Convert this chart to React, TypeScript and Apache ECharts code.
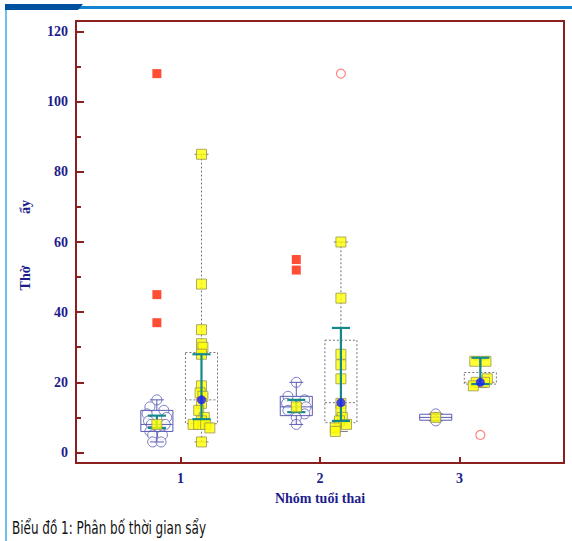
import React, { useEffect, useRef } from "react";
import * as echarts from "echarts";

// ---------- data ----------
const categories = [1, 2, 3];
const xTickValues = [1, 2, 3];
const yTickValues = [0, 20, 40, 60, 80, 100, 120];
const yMinorTickValues = [10, 30, 50, 70, 90, 110];
const captionText = "Biểu đồ 1: Phân bố thời gian sẩy";

// group A (open circles, blue box)
const groupAValues = [
  [15, 13, 12, 11, 10, 9, 8, 8, 6, 5, 5, 3, 3],
  [20, 16, 15, 14, 13, 12, 11, 10, 8],
  [11, 10, 9],
];
const groupAJitter = [
  [0, -0.05, 0.05, -0.07, 0.07, -0.06, 0.06, -0.04, -0.05, -0.03, 0.04, -0.03, 0.03],
  [0, -0.06, 0.06, -0.07, 0.07, -0.06, 0.06, 0, 0],
  [0, 0, 0],
];
// [min, q1, median, q3, max]
const groupABox = [
  [3, 6, 8, 12, 15],
  [8, 10.5, 13, 16, 20],
  [9, 9.2, 10, 10.9, 11],
];
const groupAMean = [8, 13, 10];
const groupAErr = [
  [7, 10.5],
  [11.5, 15],
  null,
];
const groupAOutliers = [[108, 45, 37], [55, 52], []];

// group B (yellow squares, dotted box)
const groupBValues = [
  [85, 48, 35, 31, 30, 28, 19, 17, 16, 14, 12, 10, 9, 8, 8, 8, 7, 3],
  [60, 44, 28, 25, 21, 14, 12, 10, 9, 8, 7, 6],
  [26, 26, 21, 20, 20, 19],
];
const groupBJitter = [
  [0, 0, 0, 0, 0.01, 0, 0, -0.01, 0.01, 0, -0.02, 0.02, 0, -0.06, -0.02, 0.03, 0.06, 0],
  [0, 0, 0, 0, 0, 0, 0, 0.01, -0.01, 0.04, -0.04, -0.04],
  [-0.04, 0.04, 0.05, -0.03, 0.03, -0.05],
];
const groupBBox = [
  [3, 8.2, 15, 28.5, 85],
  [6, 8.5, 14.2, 32, 60],
  [18.5, 19.5, 20, 22.8, 26.4],
];
const groupBMean = [15, 14.2, 20];
const groupBErr = [
  [9.5, 28],
  [9, 35.5],
  [19.5, 27],
];
const groupBOutliers = [[], [108], [5]];

// ---------- layout constants ----------
const OFF_A = -0.17;
const OFF_B = 0.15;
const BOX_W = 0.23;
const ERR_W = 0.13;
const CAP_W = 0.1;

const NAVY = "#1c1c8c";
const FRAME = "#8b2020";
const TEAL = "#13898a";

function boxRenderer(stroke: string, dashed: boolean) {
  return (params: any, api: any) => {
    const x = api.value(0);
    const vals = [1, 2, 3, 4, 5].map((i) => api.value(i));
    const pts = vals.map((v) => api.coord([x, v]));
    const cx = pts[0][0];
    const hw = api.size([BOX_W, 0])[0] / 2;
    const cw = api.size([CAP_W, 0])[0] / 2;
    const [yMin, yQ1, yMed, yQ3, yMax] = pts.map((p: number[]) => p[1]);
    const ls: any = {
      stroke,
      lineWidth: 1,
      fill: "none",
      lineDash: dashed ? [2, 2] : null,
    };
    return {
      type: "group",
      children: [
        { type: "rect", shape: { x: cx - hw, y: yQ3, width: hw * 2, height: yQ1 - yQ3 }, style: ls },
        { type: "line", shape: { x1: cx - hw, y1: yMed, x2: cx + hw, y2: yMed }, style: ls },
        { type: "line", shape: { x1: cx, y1: yQ3, x2: cx, y2: yMax }, style: ls },
        { type: "line", shape: { x1: cx, y1: yQ1, x2: cx, y2: yMin }, style: ls },
        { type: "line", shape: { x1: cx - cw, y1: yMax, x2: cx + cw, y2: yMax }, style: { ...ls, lineDash: null } },
        { type: "line", shape: { x1: cx - cw, y1: yMin, x2: cx + cw, y2: yMin }, style: { ...ls, lineDash: null } },
      ],
    };
  };
}

function errRenderer(params: any, api: any) {
  const x = api.value(0);
  const lo = api.coord([x, api.value(1)]);
  const hi = api.coord([x, api.value(2)]);
  const hw = api.size([ERR_W, 0])[0] / 2;
  const st = { stroke: TEAL, lineWidth: 2.2 };
  return {
    type: "group",
    children: [
      { type: "line", shape: { x1: lo[0], y1: lo[1], x2: hi[0], y2: hi[1] }, style: st },
      { type: "line", shape: { x1: lo[0] - hw, y1: lo[1], x2: lo[0] + hw, y2: lo[1] }, style: st },
      { type: "line", shape: { x1: hi[0] - hw, y1: hi[1], x2: hi[0] + hw, y2: hi[1] }, style: st },
    ],
  };
}

export default function App() {
  const ref = useRef<HTMLDivElement>(null);

  useEffect(() => {
    if (!ref.current) return;
    const chart = echarts.init(ref.current, null, { renderer: "svg" });

    const aPoints: number[][] = [];
    const bPoints: number[][] = [];
    categories.forEach((c, i) => {
      groupAValues[i].forEach((v, j) => aPoints.push([c + OFF_A + groupAJitter[i][j], v]));
      groupBValues[i].forEach((v, j) => bPoints.push([c + OFF_B + groupBJitter[i][j], v]));
    });
    const aBox = categories.map((c, i) => [c + OFF_A, ...groupABox[i]]);
    const bBox = categories.map((c, i) => [c + OFF_B, ...groupBBox[i]]);
    const aErr = categories
      .map((c, i) => (groupAErr[i] ? [c + OFF_A, ...(groupAErr[i] as number[])] : null))
      .filter(Boolean);
    const bErr = categories.map((c, i) => [c + OFF_B, ...groupBErr[i]]);
    const aMean = categories.map((c, i) => [c + OFF_A, groupAMean[i]]);
    const bMean = categories.map((c, i) => [c + OFF_B, groupBMean[i]]);
    const aOut: number[][] = [];
    const bOut: number[][] = [];
    categories.forEach((c, i) => {
      groupAOutliers[i].forEach((v) => aOut.push([c + OFF_A, v]));
      groupBOutliers[i].forEach((v) => bOut.push([c + OFF_B, v]));
    });

    const labelFont = {
      fontFamily: "'Liberation Serif', 'DejaVu Serif', serif",
      fontWeight: "bold" as const,
      fontSize: 14,
      color: NAVY,
    };

    chart.setOption({
      animation: false,
      backgroundColor: "transparent",
      grid: {
        left: 76,
        right: 8,
        top: 21,
        bottom: 78,
        show: true,
        borderColor: FRAME,
        borderWidth: 2,
        backgroundColor: "transparent",
      },
      xAxis: {
        type: "value",
        min: 0.25,
        max: 3.75,
        axisLine: { show: true, onZero: false, lineStyle: { color: FRAME, width: 2 } },
        axisTick: { show: true, inside: true, length: 6, lineStyle: { color: FRAME, width: 2 }, customValues: xTickValues },
        axisLabel: { ...labelFont, margin: 8, customValues: xTickValues, formatter: (v: number) => String(v) },
        splitLine: { show: false },
        name: "Nhóm tuổi thai",
        nameLocation: "middle",
        nameGap: 28,
        nameTextStyle: { ...labelFont, fontSize: 14 },
      },
      yAxis: [
        {
          type: "value",
          min: -3,
          max: 123,
          axisLine: { show: true, onZero: false, lineStyle: { color: FRAME, width: 2 } },
          axisTick: { show: true, inside: true, length: 8, lineStyle: { color: FRAME, width: 2 }, customValues: yTickValues },
          axisLabel: { ...labelFont, margin: 8, customValues: yTickValues },
          splitLine: { show: false },
        },
        {
          type: "value",
          min: -3,
          max: 123,
          position: "left",
          axisLine: { show: false, onZero: false },
          axisTick: { show: true, inside: true, length: 5, lineStyle: { color: FRAME, width: 2 }, customValues: yMinorTickValues },
          axisLabel: { show: false },
          splitLine: { show: false },
        },
      ],
      series: [
        {
          type: "scatter",
          data: aPoints,
          symbol: "circle",
          symbolSize: 10,
          itemStyle: { color: "#ffffff", borderColor: "#5a5ab4", borderWidth: 1 },
          z: 2,
        },
        { type: "custom", data: aBox, renderItem: boxRenderer("#5a5ab4", false), z: 3 },
        { type: "custom", data: aErr, renderItem: errRenderer, z: 4 },
        {
          type: "scatter",
          data: aMean,
          symbol: "rect",
          symbolSize: 10,
          itemStyle: { color: "#ffff00", borderColor: "#9a9650", borderWidth: 1 },
          z: 5,
        },
        { type: "custom", data: bBox, renderItem: boxRenderer("#777777", true), z: 2 },
        {
          type: "scatter",
          data: bPoints,
          symbol: "rect",
          symbolSize: 10,
          itemStyle: { color: "#ffff00", borderColor: "#9a9650", borderWidth: 1 },
          z: 3,
        },
        { type: "custom", data: bErr, renderItem: errRenderer, z: 4 },
        {
          type: "scatter",
          data: bMean,
          symbol: "circle",
          symbolSize: 9,
          itemStyle: { color: "#1a1aff" },
          z: 5,
        },
        {
          type: "scatter",
          data: aOut,
          symbol: "rect",
          symbolSize: 9,
          itemStyle: { color: "#ff2200" },
          z: 5,
        },
        {
          type: "scatter",
          data: bOut,
          symbol: "circle",
          symbolSize: 9,
          itemStyle: { color: "#ffffff", borderColor: "#ff6666", borderWidth: 1.2 },
          z: 5,
        },
      ],
      graphic: [
        { type: "rect", shape: { x: 6, y: 6, width: 566, height: 3 }, style: { fill: "#1484d0" } },
        { type: "polygon", shape: { points: [[5, 4], [83, 4], [78, 10], [5, 10]] }, style: { fill: "#0050a0" } },
        { type: "rect", shape: { x: 5, y: 10, width: 2, height: 531 }, style: { fill: "#6ec0ee" } },
        {
          type: "text",
          x: 25,
          y: 278,
          rotation: Math.PI / 2,
          style: { text: "Thờ", ...labelFont, fill: NAVY, align: "center", verticalAlign: "middle" },
        },
        {
          type: "text",
          x: 25,
          y: 207,
          rotation: Math.PI / 2,
          style: { text: "ẩy", ...labelFont, fill: NAVY, align: "center", verticalAlign: "middle" },
        },
      ],
    });

    return () => chart.dispose();
  }, []);

  return (
    <div style={{ position: "fixed", left: 0, top: 0, width: 572, height: 541, background: "#fff" }}>
      <div ref={ref} style={{ position: "absolute", left: 0, top: 0, width: 572, height: 541 }} />
      <div
        style={{
          position: "absolute",
          left: 12,
          top: 517,
          whiteSpace: "nowrap",
          fontFamily: "'DejaVu Sans Condensed', 'DejaVu Sans', sans-serif",
          fontSize: 18,
          lineHeight: "22px",
          color: "#111",
          transform: "scaleX(0.74)",
          transformOrigin: "left top",
        }}
      >
        {captionText}
      </div>
    </div>
  );
}
